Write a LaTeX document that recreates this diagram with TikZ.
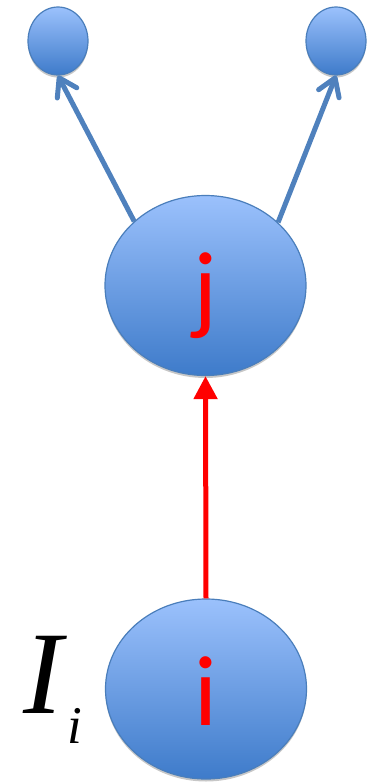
\documentclass[tikz,border=0pt]{standalone}
\usepackage{fontspec}
\setmainfont{Liberation Serif}
\newfontfamily\calib{Carlito}
\usetikzlibrary{shapes.geometric,arrows.meta,shadows}
\definecolor{nodetop}{RGB}{155,193,252}
\definecolor{nodebot}{RGB}{62,123,202}
\definecolor{nodeedge}{RGB}{74,126,187}
\definecolor{arrblue}{RGB}{79,129,189}
\begin{document}
\begin{tikzpicture}[x=1pt,y=-1pt,
  ball/.style={ellipse, draw=nodeedge, line width=1.2pt, top color=nodetop, bottom color=nodebot,
    inner sep=0pt, drop shadow={shadow xshift=0pt, shadow yshift=-2.5pt, opacity=0.22, fill=black}},
  bigball/.style={ball, minimum width=201pt, minimum height=180pt,
    font=\calib\fontsize{100}{100}\selectfont, text=red, text height=72pt, text depth=0pt},
  smallball/.style={ball, minimum width=60pt, minimum height=68pt},
  bluearrow/.style={draw=arrblue, line width=5pt, -{Straight Barb[length=17pt, width=22pt, round]}},
  redarrow/.style={draw=red, line width=5pt, -{Triangle[length=23pt, width=23pt]}}
]
\useasboundingbox (0,0) rectangle (375,782);
\node[smallball] (tl) at (58,41) {};
\node[smallball] (tr) at (336,41) {};
\node[bigball] (j) at (205.5,285.5) {j};
\node[bigball] (i) at (206,689) {i};
\draw[bluearrow] (j.138.8) -- (tl.south);
\draw[bluearrow] (j.41.6) -- (tr.south);
\draw[redarrow] (i.north) -- (j.south);
\node[anchor=base, inner sep=0pt, font=\fontsize{118}{118}\selectfont\itshape] (Ilab) at (43,713) {I};
\node[anchor=base, inner sep=0pt, font=\fontsize{53}{53}\selectfont\itshape] (isub) at (75,743) {i};
\end{tikzpicture}
\end{document}
